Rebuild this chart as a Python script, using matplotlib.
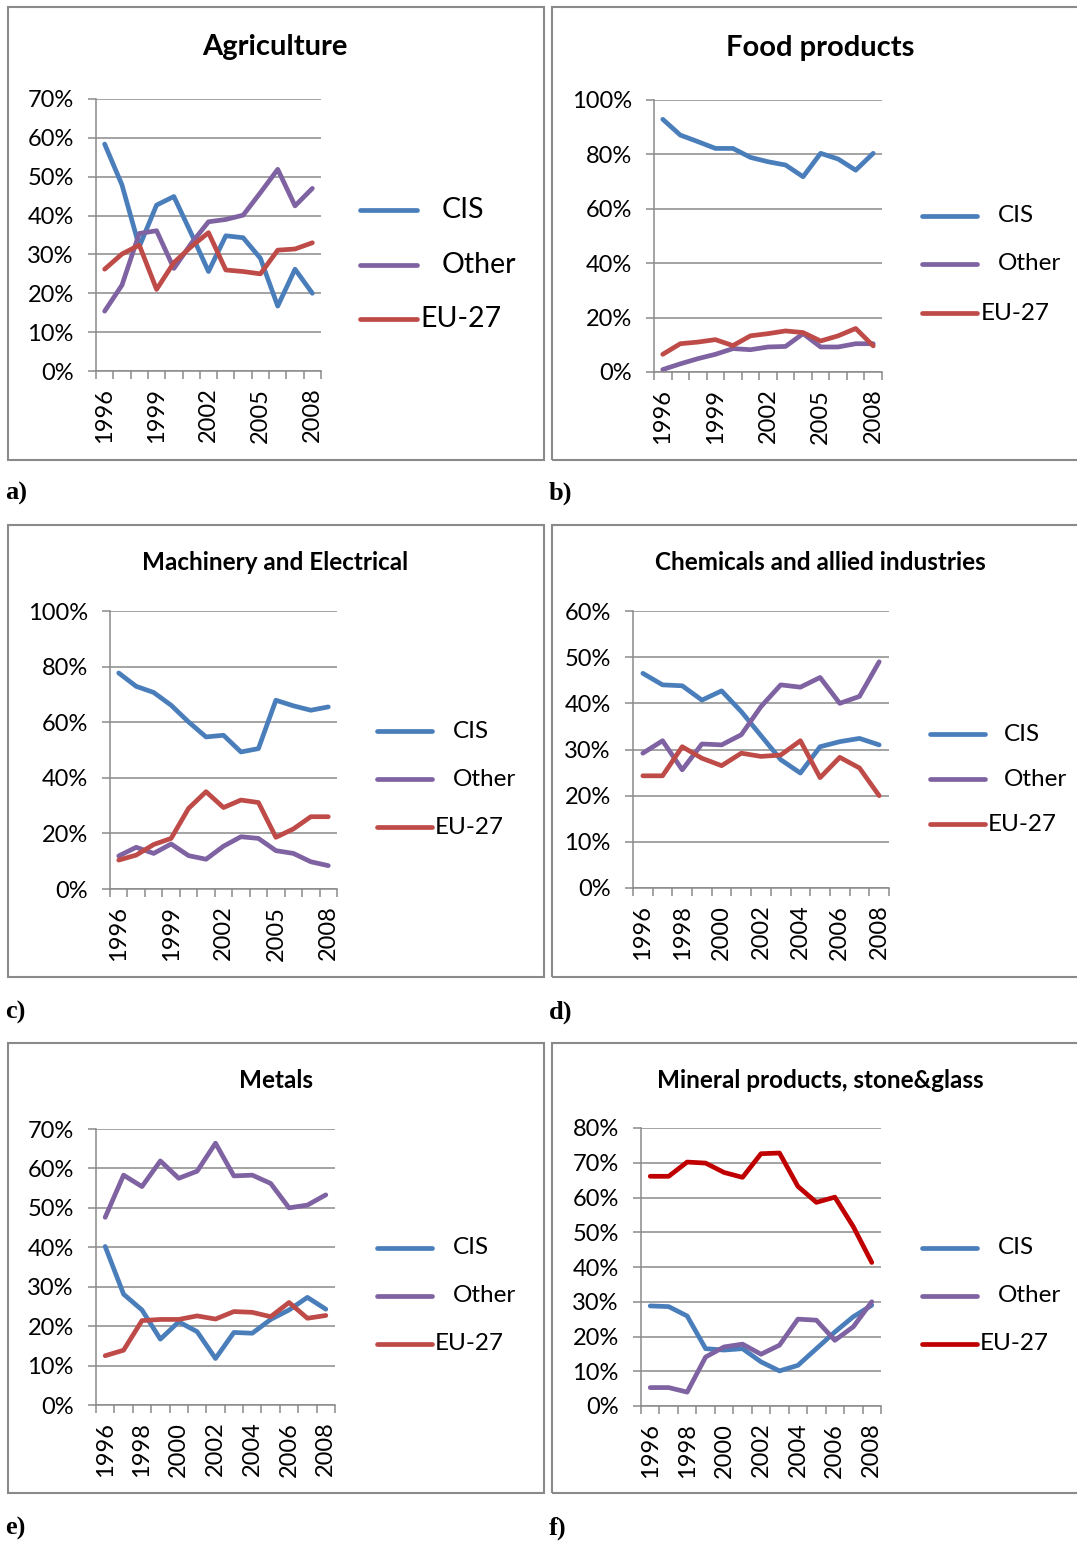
import matplotlib
matplotlib.use("Agg")
import matplotlib.pyplot as plt
from matplotlib.patches import Rectangle
from matplotlib.lines import Line2D
from matplotlib.ticker import FuncFormatter

# data (shares of exports, %)
years = list(range(1996, 2009))
series_names = ["CIS", "Other", "EU-27"]

agri_cis = [58.4, 47.9, 32.0, 42.7, 44.9, 35.4, 25.6, 34.8, 34.3, 29.0, 16.7, 26.2, 20.0]
agri_other = [15.4, 22.1, 35.4, 36.1, 26.4, 32.8, 38.4, 39.0, 40.1, 45.9, 51.9, 42.5, 47.0]
agri_eu = [26.2, 30.1, 32.4, 21.0, 27.9, 32.0, 35.6, 26.0, 25.6, 25.0, 31.1, 31.4, 33.0]

food_cis = [92.9, 87.1, 84.7, 82.2, 82.2, 78.9, 77.3, 76.1, 71.8, 80.4, 78.3, 74.2, 80.4]
food_other = [0.9, 3.0, 4.9, 6.5, 8.6, 8.2, 9.2, 9.4, 14.1, 9.2, 9.2, 10.4, 10.4]
food_eu = [6.5, 10.4, 11.0, 11.9, 9.7, 13.3, 14.1, 15.1, 14.5, 11.4, 13.3, 16.0, 9.6]

mach_cis = [77.7, 72.9, 70.7, 66.1, 60.1, 54.7, 55.3, 49.3, 50.5, 67.9, 65.9, 64.3, 65.5]
mach_other = [11.9, 15.0, 12.8, 16.2, 12.0, 10.7, 15.4, 18.8, 18.2, 13.8, 12.8, 9.8, 8.4]
mach_eu = [10.4, 12.2, 16.0, 18.2, 29.0, 35.0, 29.3, 32.0, 31.1, 18.6, 21.6, 26.0, 26.0]

chem_cis = [46.5, 44.0, 43.8, 40.7, 42.7, 38.2, 33.0, 27.8, 24.9, 30.6, 31.7, 32.4, 31.0]
chem_other = [29.2, 31.9, 25.6, 31.2, 31.0, 33.2, 39.3, 44.0, 43.5, 45.6, 40.0, 41.5, 49.0]
chem_eu = [24.3, 24.3, 30.6, 28.1, 26.5, 29.2, 28.5, 28.8, 31.9, 23.9, 28.3, 26.0, 20.0]

metal_cis = [40.2, 28.1, 24.1, 16.7, 21.1, 18.6, 11.8, 18.4, 18.2, 21.7, 24.1, 27.3, 24.3]
metal_other = [47.6, 58.3, 55.4, 61.9, 57.5, 59.3, 66.4, 58.1, 58.3, 56.2, 50.0, 50.7, 53.3]
metal_eu = [12.5, 13.9, 21.4, 21.7, 21.7, 22.6, 21.8, 23.7, 23.5, 22.4, 26.0, 22.0, 22.7]

mineral_cis = [28.8, 28.6, 25.9, 16.5, 16.1, 16.5, 12.7, 10.1, 11.7, 16.5, 21.3, 25.7, 29.0]
mineral_other = [5.3, 5.3, 4.0, 14.1, 17.0, 17.8, 14.9, 17.5, 25.0, 24.7, 18.9, 22.8, 30.0]
mineral_eu = [66.1, 66.1, 70.2, 69.9, 67.2, 65.8, 72.6, 72.8, 63.2, 58.6, 60.1, 51.6, 41.3]

W, H = 1077, 1543
BLUE, PURPLE, RED, DARKRED = "#4A7EBB", "#7E62A1", "#BE4B48", "#C00000"
GRAY = "#8A8A8A"
LW = 3.4

plt.rcParams['font.family'] = ['Lato', 'DejaVu Sans']

fig = plt.figure(figsize=(W / 100, H / 100), dpi=100)


def rect(l, t, r, b):
    return [l / W, 1 - b / H, (r - l) / W, (b - t) / H]


# panel settings: title, data, axes box (px), ymax, ystep, label step, legend layout
panels = [
    dict(title="Agriculture", data=(agri_cis, agri_other, agri_eu), colors=(BLUE, PURPLE, RED),
         box=(8, 7, 544, 460), ax=(96, 99, 321, 371), ymax=70, ystep=10, xstep=3,
         tpos=(275, 47), tsize=21, leg=(360, 417, (210, 265, 319), 442, 420), lsize=20.5,
         tag="a)", tagy=493),
    dict(title="Food products", data=(food_cis, food_other, food_eu), colors=(BLUE, PURPLE, RED),
         box=(552, 7, 1090, 460), ax=(654, 100, 882, 372), ymax=100, ystep=20, xstep=3,
         tpos=(820, 48), tsize=21, leg=(922, 977, (216, 264, 313), 998, 981), lsize=17.5,
         tag="b)", tagy=493),
    dict(title="Machinery and Electrical", data=(mach_cis, mach_other, mach_eu), colors=(BLUE, PURPLE, RED),
         box=(8, 525, 544, 977), ax=(110, 611, 337, 889), ymax=100, ystep=20, xstep=3,
         tpos=(275, 562), tsize=17.5, leg=(377, 432, (731, 779, 827), 453, 435), lsize=17.5,
         tag="c)", tagy=1012),
    dict(title="Chemicals and allied industries", data=(chem_cis, chem_other, chem_eu), colors=(BLUE, PURPLE, RED),
         box=(552, 525, 1090, 977), ax=(633, 611, 889, 888), ymax=60, ystep=10, xstep=2,
         tpos=(820, 562), tsize=17.5, leg=(930, 985, (734, 779, 824), 1004, 988), lsize=17.5,
         tag="d)", tagy=1012),
    dict(title="Metals", data=(metal_cis, metal_other, metal_eu), colors=(BLUE, PURPLE, RED),
         box=(8, 1043, 544, 1493), ax=(96, 1129, 335, 1405), ymax=70, ystep=10, xstep=2,
         tpos=(276, 1080), tsize=17.5, leg=(377, 432, (1248, 1296, 1344), 453, 435), lsize=17.5,
         tag="e)", tagy=1528),
    dict(title="Mineral products, stone&glass", data=(mineral_cis, mineral_other, mineral_eu),
         colors=(BLUE, PURPLE, DARKRED),
         box=(552, 1043, 1090, 1493), ax=(641, 1128, 881, 1406), ymax=80, ystep=10, xstep=2,
         tpos=(820, 1080), tsize=17.5, leg=(922, 977, (1248, 1296, 1344), 998, 980), lsize=17.5,
         tag="f)", tagy=1528),
]

pct = FuncFormatter(lambda v, p: f"{v:.0f}%")
xs = list(range(len(years)))

for p in panels:
    # outer frame
    bl, bt, br, bb = p["box"]
    fig.add_artist(Rectangle((bl / W, 1 - bb / H), (br - bl) / W, (bb - bt) / H,
                             transform=fig.transFigure, fill=False, edgecolor=GRAY, lw=1.5))
    ax = fig.add_axes(rect(*p["ax"]))
    for vals, col in zip(p["data"], p["colors"]):
        ax.plot(xs, vals, color=col, lw=LW, solid_joinstyle="round", solid_capstyle="round",
                clip_on=False)
    ax.set_xlim(-0.5, len(years) - 0.5)
    ax.set_ylim(0, p["ymax"])
    ax.set_yticks(range(0, p["ymax"] + 1, p["ystep"]))
    ax.yaxis.set_major_formatter(pct)
    ax.grid(axis="y", color=GRAY, lw=1.1)
    ax.set_axisbelow(True)
    ax.set_xticks(xs[::p["xstep"]])
    ax.set_xticklabels([str(y) for y in years[::p["xstep"]]], rotation=90)
    ax.set_xticks([x - 0.5 for x in range(len(years) + 1)], minor=True)
    ax.tick_params(axis="x", which="major", length=0, pad=12, labelsize=17)
    ax.tick_params(axis="x", which="minor", length=6, width=1.1, color=GRAY)
    ax.tick_params(axis="y", length=6, width=1.1, color=GRAY, pad=10, labelsize=17)
    for s in ("top", "right"):
        ax.spines[s].set_visible(False)
    for s in ("left", "bottom"):
        ax.spines[s].set_color(GRAY)
        ax.spines[s].set_linewidth(1.1)

    fig.text(p["tpos"][0] / W, 1 - p["tpos"][1] / H, p["title"], ha="center", va="center",
             fontsize=p["tsize"], fontweight="bold")

    # legend
    lx0, lx1, lys, tx, tx_eu = p["leg"]
    for name, col, ly in zip(series_names, p["colors"], lys):
        fig.add_artist(Line2D([lx0 / W, lx1 / W], [1 - ly / H] * 2, transform=fig.transFigure,
                              color=col, lw=LW, solid_capstyle="round"))
        x_txt = tx_eu if name == "EU-27" else tx
        fig.text(x_txt / W, 1 - ly / H, name, ha="left", va="center", fontsize=p["lsize"])

    fig.text((bl - 3) / W, 1 - p["tagy"] / H, p["tag"], ha="left", va="center",
             fontsize=19, fontweight="bold", family="Liberation Serif")

fig.savefig("out.png", dpi=100)
